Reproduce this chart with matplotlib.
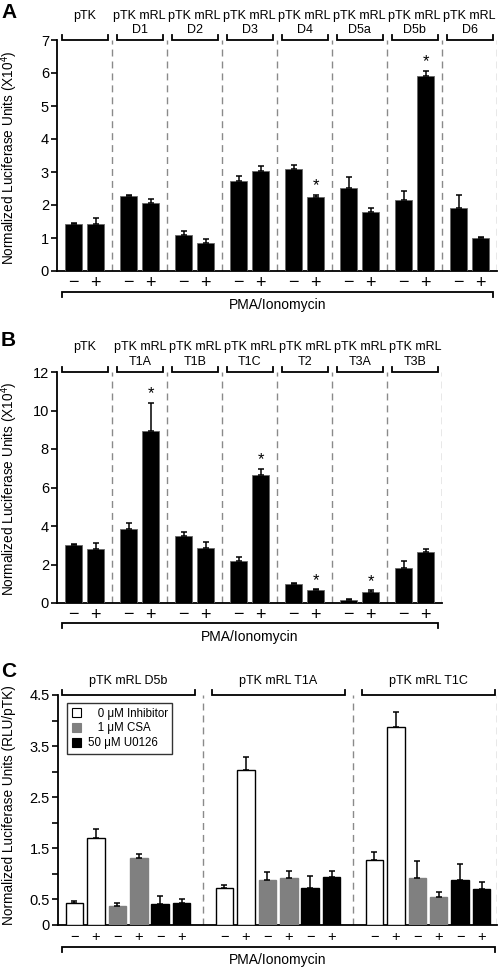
import numpy as np
import matplotlib
matplotlib.use('Agg')
import matplotlib.pyplot as plt
from matplotlib.patches import Patch
from matplotlib.transforms import blended_transform_factory

plt.rcParams['font.family'] = ['Liberation Sans', 'DejaVu Sans']
plt.rcParams['mathtext.fontset'] = 'custom'
plt.rcParams['mathtext.rm'] = 'Liberation Sans'
plt.rcParams['mathtext.default'] = 'regular'

# ---- panel A data (x10^4 RLU) ----
a_constructs = ['pTK', 'pTK mRL D1', 'pTK mRL D2', 'pTK mRL D3', 'pTK mRL D4',
                'pTK mRL D5a', 'pTK mRL D5b', 'pTK mRL D6']
a_minus = [1.41, 2.27, 1.10, 2.72, 3.09, 2.51, 2.15, 1.92]
a_minus_err = [0.05, 0.03, 0.11, 0.15, 0.11, 0.33, 0.26, 0.38]
a_plus = [1.43, 2.05, 0.85, 3.03, 2.25, 1.80, 5.91, 1.00]
a_plus_err = [0.19, 0.12, 0.11, 0.16, 0.06, 0.12, 0.16, 0.02]
a_sig = [False, False, False, False, True, False, True, False]

# ---- panel B data (x10^4 RLU) ----
b_constructs = ['pTK', 'pTK mRL T1A', 'pTK mRL T1B', 'pTK mRL T1C', 'pTK mRL T2',
                'pTK mRL T3A', 'pTK mRL T3B']
b_minus = [3.02, 3.84, 3.48, 2.19, 0.98, 0.17, 1.81]
b_minus_err = [0.05, 0.30, 0.21, 0.21, 0.07, 0.05, 0.36]
b_plus = [2.79, 8.91, 2.84, 6.64, 0.67, 0.57, 2.64]
b_plus_err = [0.31, 1.49, 0.35, 0.34, 0.05, 0.10, 0.17]
b_sig = [False, True, False, True, True, True, False]

# ---- panel C data (RLU/pTK) ----
c_constructs = ['pTK mRL D5b', 'pTK mRL T1A', 'pTK mRL T1C']
c_treatments = ['   0 \u03bcM Inhibitor', '   1 \u03bcM CSA', '50 \u03bcM U0126']
c_colors = ['white', '#808080', 'black']
# per construct: [0uM -, 0uM +, 1uM -, 1uM +, 50uM -, 50uM +]
c_values = [[0.435, 1.71, 0.38, 1.31, 0.415, 0.435],
            [0.73, 3.04, 0.88, 0.91, 0.73, 0.935],
            [1.28, 3.87, 0.92, 0.54, 0.88, 0.71]]
c_errors = [[0.025, 0.17, 0.06, 0.08, 0.16, 0.08],
            [0.05, 0.25, 0.15, 0.14, 0.23, 0.13],
            [0.14, 0.30, 0.34, 0.10, 0.31, 0.13]]

W, H = 500, 968
fig = plt.figure(figsize=(W / 100, H / 100), dpi=100)
DASH = '#8a8a8a'


def axes_px(left, top, right, bottom):
    return fig.add_axes([left / W, 1 - bottom / H, (right - left) / W, (bottom - top) / H])


def fy(px):
    return 1 - px / H


def style_axis(ax):
    for s in ('top', 'right'):
        ax.spines[s].set_visible(False)
    ax.spines['left'].set_linewidth(1.3)
    ax.spines['bottom'].set_linewidth(1.3)
    ax.tick_params(axis='x', bottom=False, labelbottom=False)
    ax.tick_params(axis='y', direction='out', length=4, width=1.2, pad=2)


def bracket(ax, x0, x1, ypx, up):
    tr = blended_transform_factory(ax.transData, fig.transFigure)
    d = 5 if up else -5
    ax.plot([x0, x0, x1, x1], [fy(ypx + d), fy(ypx), fy(ypx), fy(ypx + d)],
            color='black', lw=1.3, transform=tr, clip_on=False,
            solid_joinstyle='miter')


def header(ax, x, name, y1, y2, size):
    tr = blended_transform_factory(ax.transData, fig.transFigure)
    if ' ' in name:
        top, bot = name.rsplit(' ', 1)
        ax.text(x, fy(y1), top, ha='center', va='center', fontsize=size, transform=tr)
        ax.text(x, fy(y2), bot, ha='center', va='center', fontsize=size, transform=tr)
    else:
        ax.text(x, fy(y1), name, ha='center', va='center', fontsize=size, transform=tr)


def signs(ax, xs, ypx, size):
    tr = blended_transform_factory(ax.transData, fig.transFigure)
    for i, x in enumerate(xs):
        ax.text(x, fy(ypx), '\u2212' if i % 2 == 0 else '+', ha='center', va='center',
                fontsize=size, transform=tr)


def two_bar_panel(ax, constructs, minus, minus_err, plus, plus_err, sig, ymax, ystep, rows):
    n = len(constructs)
    x = np.arange(n)
    for off, vals, errs in ((0.3, minus, minus_err), (0.7, plus, plus_err)):
        ax.bar(x + off, vals, width=0.31, color='black', edgecolor='#666666',
               linewidth=0.6, zorder=3)
        ax.errorbar(x + off, vals, yerr=[np.zeros(n), errs], fmt='none', ecolor='black',
                    elinewidth=1.1, capsize=2.5, capthick=1.1, zorder=4)
    for i in range(n):
        if sig[i]:
            ax.annotate('*', (x[i] + 0.7, plus[i] + plus_err[i]), xytext=(0, 1),
                        textcoords='offset points', ha='center', va='bottom', fontsize=12)
    for i in range(1, n + 1):
        ax.axvline(i, color=DASH, lw=1.0, ls=(0, (5, 3.6)), zorder=1)
    ax.set_xlim(0, n)
    ax.set_ylim(0, ymax)
    ax.set_yticks(np.arange(0, ymax + 0.01, ystep))
    ax.tick_params(axis='y', labelsize=10.5)
    style_axis(ax)
    h1, h2, top, sgn, bot, lab = rows
    for i, name in enumerate(constructs):
        header(ax, i + 0.5, name, h1, h2, 9)
        bracket(ax, i + 0.085, i + 0.92, top, up=False)
    xs = np.ravel(np.column_stack([x + 0.3, x + 0.7]))
    signs(ax, xs, sgn, 13)
    bracket(ax, 0.085, n - 0.08, bot, up=True)
    tr = blended_transform_factory(ax.transData, fig.transFigure)
    ax.text(n / 2, fy(lab), 'PMA/Ionomycin', ha='center', va='center', fontsize=10, transform=tr)


# ---- panel A ----
axA = axes_px(57.3, 40, 497, 271)
two_bar_panel(axA, a_constructs, a_minus, a_minus_err, a_plus, a_plus_err, a_sig,
              7, 1, (16.5, 30, 40, 283, 292, 305))
fig.text(9 / W, fy(158), 'Normalized Luciferase Units (X10$^{4}$)', rotation=90,
         ha='center', va='center', fontsize=9.8)
fig.text(1 / W, fy(3), 'A', fontsize=15, fontweight='bold', ha='left', va='top')

# ---- panel B ----
axB = axes_px(57.3, 372, 442.3, 603)
two_bar_panel(axB, b_constructs, b_minus, b_minus_err, b_plus, b_plus_err, b_sig,
              12, 2, (347, 362, 372, 615, 623, 637))
fig.text(9 / W, fy(489), 'Normalized Luciferase Units (X10$^{4}$)', rotation=90,
         ha='center', va='center', fontsize=9.8)
fig.text(1 / W, fy(331), 'B', fontsize=15, fontweight='bold', ha='left', va='top')

# ---- panel C ----
axC = axes_px(58, 695, 497, 925)
ng = len(c_constructs)
offsets = (np.arange(6) + 1) / 7
for g in range(ng):
    xs = g + offsets
    for k in range(6):
        col = c_colors[k // 2]
        axC.bar(xs[k], c_values[g][k], width=0.117, color=col,
                edgecolor='black' if col == 'white' else col, linewidth=1.0, zorder=3)
    axC.errorbar(xs, c_values[g], yerr=[np.zeros(6), c_errors[g]], fmt='none',
                 ecolor='black', elinewidth=1.1, capsize=2.5, capthick=1.1, zorder=4)
for xd in (1, 2, 2.96):
    axC.axvline(xd, color=DASH, lw=1.0, ls=(0, (5, 3.6)), zorder=1)
axC.set_xlim(0.033, 2.96)
axC.set_ylim(0, 4.5)
cticks = np.arange(0, 4.51, 0.5)
axC.set_yticks(cticks)
axC.set_yticklabels(['0', '0.5', '', '1.5', '', '2.5', '', '3.5', '', '4.5'])
axC.tick_params(axis='y', labelsize=10.5)
style_axis(axC)
trC = blended_transform_factory(axC.transData, fig.transFigure)
for g, name in enumerate(c_constructs):
    axC.text(g + 0.5, fy(681), name, ha='center', va='center', fontsize=9, transform=trC)
    bracket(axC, g + 0.06, g + 0.947, 695, up=False)
signs(axC, np.ravel([g + offsets for g in range(ng)]), 937, 10.5)
bracket(axC, 0.06, 2.947, 947, up=True)
axC.text(1.5, fy(960), 'PMA/Ionomycin', ha='center', va='center', fontsize=10, transform=trC)
handles = [Patch(facecolor=c, edgecolor='black' if c == 'white' else c, lw=0.8)
           for c in c_colors]
leg = axC.legend(handles, c_treatments, loc='upper left', bbox_to_anchor=(9 / 439, 1 - 8 / 230),
                 fontsize=8.3, frameon=True, fancybox=False, handlelength=0.8, handleheight=0.8,
                 handletextpad=0.6, borderpad=0.4, labelspacing=0.25, borderaxespad=0)
leg.get_frame().set_edgecolor('black')
leg.get_frame().set_linewidth(1.0)
fig.text(9 / W, fy(805), 'Normalized Luciferase Units (RLU/pTK)', rotation=90,
         ha='center', va='center', fontsize=9.8)
fig.text(1 / W, fy(662), 'C', fontsize=15, fontweight='bold', ha='left', va='top')

fig.savefig('out.png', dpi=100)
